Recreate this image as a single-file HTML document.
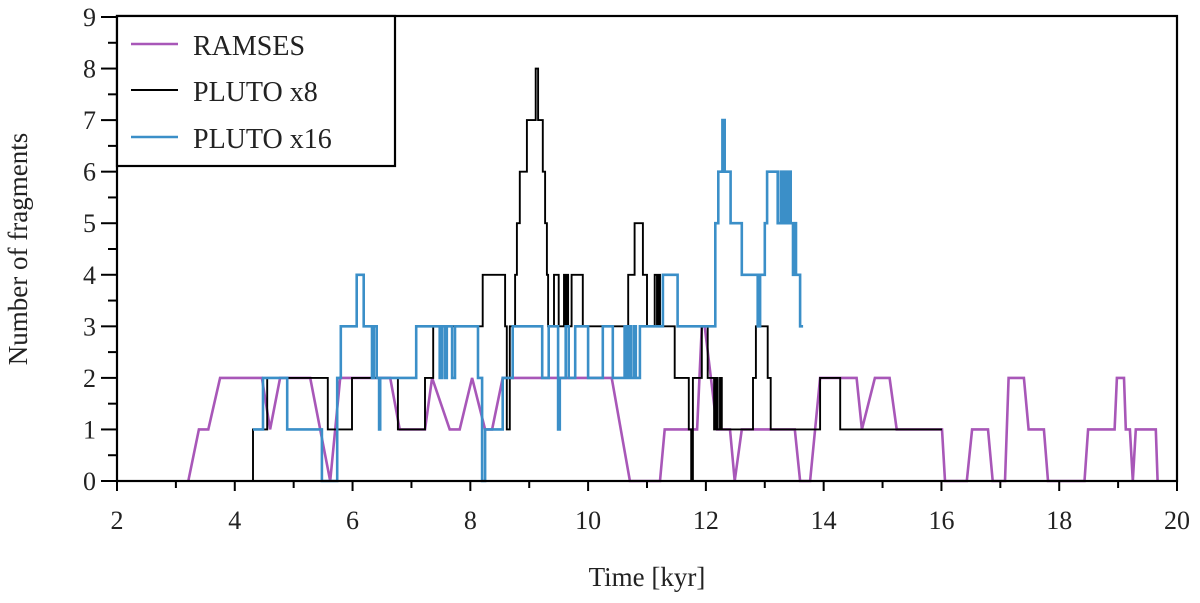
<!DOCTYPE html>
<html><head><meta charset="utf-8"><style>
body{margin:0;background:#fff;}
svg text{font-family:"Liberation Serif",serif;fill:#222;}
</style></head><body>
<svg id="chart" width="1200" height="598" xmlns="http://www.w3.org/2000/svg">
<g id="marks"></g>
<g id="axes"></g>
<text x="647" y="586" font-size="27" text-anchor="middle">Time [kyr]</text>
<text x="0" y="0" font-size="27" text-anchor="middle" transform="translate(27,249) rotate(-90)">Number of fragments</text>
<g>
<rect x="117" y="16" width="278" height="150" fill="#fff" stroke="#000" stroke-width="2.2"/>
<g><line x1="131" y1="44" x2="178" y2="44" stroke="#a857b8" stroke-width="2.5"/><text x="193" y="55" font-size="28">RAMSES</text></g>
<g><line x1="131" y1="90" x2="178" y2="90" stroke="#000" stroke-width="2"/><text x="193" y="101" font-size="28">PLUTO x8</text></g>
<g><line x1="131" y1="137" x2="178" y2="137" stroke="#3b8fc8" stroke-width="2.5"/><text x="193" y="148" font-size="28">PLUTO x16</text></g>
</g>
</svg>
<script>
const xTicks=[2,4,6,8,10,12,14,16,18,20];
const yTicks=[0,1,2,3,4,5,6,7,8,9];
// RAMSES: polyline points (time kyr, count)
const ramsesT=[3.21,3.39,3.55,3.75,4.46,4.60,4.77,5.28,5.62,5.79,6.64,6.80,7.23,7.35,7.65,7.82,8.03,8.25,8.37,8.55,10.40,10.71,11.22,11.30,11.85,11.93,11.98,12.19,12.41,12.49,12.61,13.51,13.60,13.77,13.94,14.56,14.65,14.87,15.12,15.24,16.01,16.06,16.43,16.52,16.79,16.87,17.08,17.14,17.40,17.48,17.74,17.81,18.43,18.49,18.94,18.98,19.10,19.13,19.20,19.25,19.30,19.64,19.67];
const ramsesN=[0,1,1,2,2,1,2,2,0,2,2,1,1,2,1,1,2,1,1,2,2,0,0,1,1,3,3,1,1,0,1,1,0,0,2,2,1,2,2,1,1,0,0,1,1,0,0,2,2,1,1,0,0,1,1,2,2,1,1,0,1,1,0];
// PLUTO x8: step changes (time kyr, new count)
const p8T=[4.29,4.31,4.55,5.58,5.99,6.77,7.23,7.37,8.21,8.59,8.62,8.67,8.76,8.79,8.84,8.96,9.11,9.15,9.23,9.27,9.30,9.32,9.42,9.50,9.59,9.62,9.64,9.66,9.72,9.91,10.68,10.79,10.93,11.00,11.13,11.17,11.19,11.22,11.47,11.71,11.75,11.78,11.93,12.03,12.14,12.17,12.20,12.24,12.27,12.80,12.85,13.05,13.10,13.94,14.28];
const p8N=[0,1,2,1,2,1,2,3,4,3,1,3,4,5,6,7,8,7,6,5,4,3,4,3,4,3,4,3,4,3,4,5,4,3,4,3,4,3,2,1,0,2,3,2,1,2,1,2,1,2,3,2,1,2,1];
const p8End=16.01;
// PLUTO x16: step changes
const p16T=[4.31,4.48,4.89,5.48,5.74,5.80,6.07,6.19,6.33,6.36,6.41,6.45,6.47,7.08,7.48,7.52,7.57,7.60,7.69,7.74,8.13,8.20,8.25,8.55,8.72,9.22,9.33,9.49,9.52,9.62,9.67,9.78,10.00,10.25,10.42,10.62,10.66,10.69,10.73,10.78,10.81,10.88,11.27,11.52,12.16,12.21,12.28,12.32,12.42,12.61,12.88,12.92,13.00,13.04,13.22,13.27,13.31,13.32,13.36,13.37,13.41,13.43,13.44,13.48,13.51,13.53,13.60];
const p16N=[1,2,1,0,2,3,4,3,2,3,2,1,2,3,2,3,2,3,2,3,2,0,1,2,3,2,3,1,2,3,2,3,2,3,2,3,2,3,2,3,2,3,4,3,5,6,7,6,5,4,3,4,5,6,5,6,5,6,5,6,5,6,5,4,5,4,3];
const p16End=13.65;

const L=117,R=1177,T=17,B=481;
const X=v=>L+(v-2)/(20-2)*(R-L);
const Y=v=>B-v/9*(B-T);
const NS="http://www.w3.org/2000/svg";
const marks=document.getElementById('marks'),axes=document.getElementById('axes');
function mk(tag,attrs,parent){const e=document.createElementNS(NS,tag);for(const k in attrs)e.setAttribute(k,attrs[k]);parent.appendChild(e);return e;}
function stepPts(ts,ns,end){let p=[];for(let i=0;i<ts.length;i++){if(i>0)p.push([ts[i],ns[i-1]]);p.push([ts[i],ns[i]]);}p.push([end,ns[ns.length-1]]);return p;}
function draw(pts,color,w,name){const d=pts.map((p,i)=>(i?'L':'M')+X(p[0]).toFixed(1)+' '+Y(p[1]).toFixed(1)).join(' ');
const e=mk('path',{d:d,fill:'none',stroke:color,'stroke-width':w,'stroke-linejoin':'miter'},marks);

}
draw(ramsesT.map((t,i)=>[t,ramsesN[i]]),'#a857b8',2.6,'ramses-line');
draw(stepPts(p8T,p8N,p8End),'#000',1.9,'pluto-x8-line');
draw(stepPts(p16T,p16N,p16End),'#3b8fc8',2.6,'pluto-x16-line');
const fr=mk('rect',{x:L,y:T-1,width:R-L,height:B-T+1,fill:'none',stroke:'#000','stroke-width':2.2},axes);


for(let v=2;v<=20;v++){const maj=xTicks.includes(v);
const t=mk('line',{x1:X(v),x2:X(v),y1:B,y2:B+(maj?10:7),stroke:'#000','stroke-width':2},axes);

}
xTicks.forEach(v=>{const t=mk('text',{x:X(v),y:B+48,'font-size':26,'text-anchor':'middle'},axes);t.textContent=v;

});
for(let v=0;v<=9;v+=0.5){const maj=Number.isInteger(v);
const t=mk('line',{x1:L-(maj?16:9),x2:L,y1:Y(v),y2:Y(v),stroke:'#000','stroke-width':2},axes);

}
yTicks.forEach(v=>{const t=mk('text',{x:L-21,y:Y(v)+9,'font-size':26,'text-anchor':'end'},axes);t.textContent=v;

});
</script>
</body></html>
